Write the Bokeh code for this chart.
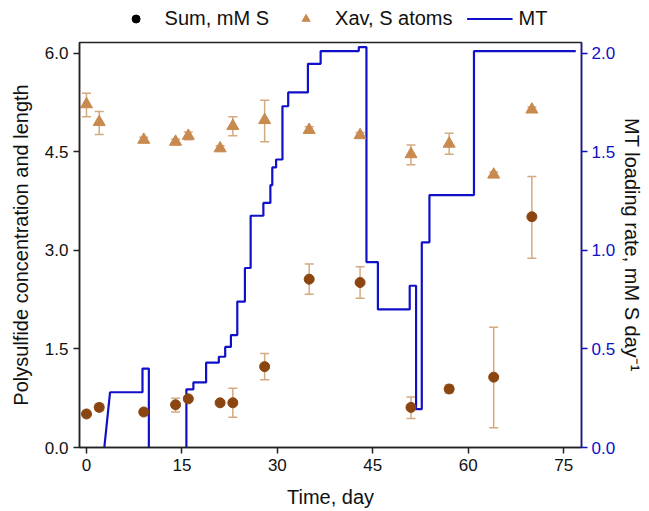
import numpy as np
from bokeh.plotting import figure
from bokeh.layouts import column
from bokeh.models import (ColumnDataSource, Range1d, LinearAxis, FixedTicker,
                          Whisker, TeeHead, Legend, LegendItem, PrintfTickFormatter)
from bokeh.embed import file_html
from bokeh.resources import INLINE

# ---- data ----
days = [0, 2, 9, 14, 16, 21, 23, 28, 35, 43, 51, 57, 64, 70]
sum_mM = [0.51, 0.61, 0.54, 0.65, 0.74, 0.68, 0.68, 1.23, 2.56, 2.51, 0.61, 0.89, 1.07, 3.51]
sum_lo = [0.47, 0.56, 0.50, 0.54, 0.70, 0.65, 0.46, 1.03, 2.33, 2.27, 0.44, 0.83, 0.30, 2.88]
sum_hi = [0.55, 0.66, 0.58, 0.75, 0.78, 0.71, 0.90, 1.43, 2.79, 2.75, 0.77, 0.95, 1.83, 4.12]

xav = [5.22, 4.95, 4.68, 4.65, 4.74, 4.55, 4.89, 4.98, 4.83, 4.75, 4.46, 4.62, 4.15, 5.14]
xav_lo = [5.03, 4.76, 4.64, 4.61, 4.68, 4.51, 4.74, 4.65, 4.78, 4.71, 4.30, 4.46, 4.11, 5.10]
xav_hi = [5.39, 5.11, 4.72, 4.69, 4.80, 4.59, 5.03, 5.28, 4.88, 4.79, 4.60, 4.78, 4.19, 5.18]

mt_day = [2.8, 3.7, 8.8, 8.8, 9.8, 9.8, np.nan,
          15.7, 15.7, 16.8, 16.8, 18.8, 18.8, 20.8, 20.8, 21.8, 21.8, 22.7, 22.7,
          23.7, 23.7, 24.9, 24.9, 25.8, 25.8, 27.8, 27.8, 28.9, 28.9, 29.2, 29.2,
          29.8, 29.8, 30.8, 30.8, 31.7, 31.7, 34.8, 34.8, 36.8, 36.8, 42.8, 42.8,
          44.0, 44.0, 45.8, 45.8, 50.8, 50.8, 51.8, 51.8, 52.7, 52.7, 53.9, 53.9,
          60.9, 60.9, 76.9]
mt_rate = [0.0, 0.28, 0.28, 0.40, 0.40, 0.0, np.nan,
           0.0, 0.295, 0.295, 0.33, 0.33, 0.43, 0.43, 0.46, 0.46, 0.51, 0.51, 0.57,
           0.57, 0.74, 0.74, 0.91, 0.91, 1.175, 1.175, 1.24, 1.24, 1.33, 1.33, 1.42,
           1.42, 1.46, 1.46, 1.73, 1.73, 1.80, 1.80, 1.945, 1.945, 2.01, 2.01, 2.03,
           2.03, 0.94, 0.94, 0.70, 0.70, 0.82, 0.82, 0.195, 0.195, 1.04, 1.04, 1.28,
           1.28, 2.01, 2.01]

left_ticks = [0, 1.5, 3.0, 4.5, 6.0]
right_ticks = [0, 0.5, 1.0, 1.5, 2.0]
x_ticks = [0, 15, 30, 45, 60, 75]

FONT = "Liberation Sans"
BROWN = "#8B4510"
TAN = "#C88A4E"
ERR = "#D4AA80"
BLUE = "#1010C8"

src = ColumnDataSource(dict(day=days, s=sum_mM, slo=sum_lo, shi=sum_hi,
                            x=xav, xlo=xav_lo, xhi=xav_hi))

# ---------- legend strip ----------
leg = figure(width=649, height=36, output_backend="svg", toolbar_location=None,
             x_axis_type=None, y_axis_type=None,
             x_range=Range1d(-1.1, 77.8), y_range=Range1d(0, 6.16),
             min_border=0)
leg.outline_line_color = None
leg.xgrid.visible = False
leg.ygrid.visible = False
leg.background_fill_color = "white"
leg.border_fill_color = "white"
l_sum = leg.scatter("day", "s", source=src, marker="circle", size=8,
                    fill_color="black", line_color="black", visible=False)
l_xav = leg.scatter("day", "x", source=src, marker="triangle", size=10,
                    fill_color=TAN, line_color=TAN, visible=False)
l_mt = leg.line(mt_day, mt_rate, line_color=BLUE, line_width=2.2, visible=False)
legend = Legend(items=[LegendItem(label="Sum, mM S", renderers=[l_sum]),
                       LegendItem(label="Xav, S atoms", renderers=[l_xav]),
                       LegendItem(label="MT", renderers=[l_mt])],
                orientation="horizontal", location="center",
                label_text_font=FONT, label_text_font_size="20px",
                label_text_color="#111111",
                glyph_width=46, label_standoff=6, spacing=14, padding=2, margin=0,
                border_line_color=None, background_fill_alpha=0)
leg.add_layout(legend)

# ---------- main plot ----------
p = figure(frame_width=502, frame_height=405, output_backend="svg", toolbar_location=None,
           x_range=Range1d(-1.1, 77.8), y_range=Range1d(0, 6.16),
           min_border_left=79, min_border_right=68, min_border_top=6, min_border_bottom=64)
p.background_fill_color = "white"
p.border_fill_color = "white"
p.xgrid.visible = False
p.ygrid.visible = False
p.outline_line_color = "#222222"
p.outline_line_width = 1.5

p.extra_y_ranges = {"mt": Range1d(0, 2.0533)}

# error bars
p.add_layout(Whisker(source=src, base="day", upper="shi", lower="slo", dimension="height",
                     line_color=ERR, line_width=1.5,
                     upper_head=TeeHead(size=9, line_color=ERR, line_width=1.5),
                     lower_head=TeeHead(size=9, line_color=ERR, line_width=1.5)))
p.add_layout(Whisker(source=src, base="day", upper="xhi", lower="xlo", dimension="height",
                     line_color=ERR, line_width=1.5,
                     upper_head=TeeHead(size=9, line_color=ERR, line_width=1.5),
                     lower_head=TeeHead(size=9, line_color=ERR, line_width=1.5)))

p.line(mt_day, mt_rate, y_range_name="mt", line_color=BLUE, line_width=2.2)
p.scatter("day", "s", source=src, marker="circle", size=10,
          fill_color=BROWN, line_color=BROWN)
p.scatter("day", "x", source=src, marker="triangle", size=12,
          fill_color=TAN, line_color=TAN)

# axes
for ax in (p.xaxis[0], p.yaxis[0]):
    ax.axis_line_color = "#222222"
    ax.axis_line_width = 1.5
    ax.major_tick_line_color = "#222222"
    ax.major_tick_line_width = 1.5
    ax.major_tick_in = 0
    ax.major_tick_out = 6
    ax.minor_tick_line_color = None
    ax.major_label_text_font = FONT
    ax.major_label_text_font_size = "17px"
    ax.major_label_text_color = "#111111"
    ax.axis_label_text_font = FONT
    ax.axis_label_text_font_size = "20px"
    ax.axis_label_text_font_style = "normal"
    ax.axis_label_text_color = "#111111"

p.xaxis[0].ticker = FixedTicker(ticks=x_ticks)
p.xaxis[0].axis_label = "Time, day"
p.xaxis[0].axis_label_standoff = 12
p.yaxis[0].ticker = FixedTicker(ticks=left_ticks)
p.yaxis[0].formatter = PrintfTickFormatter(format="%.1f")
p.yaxis[0].axis_label = "Polysulfide concentration and length"
p.yaxis[0].axis_label_standoff = 10

rax = LinearAxis(y_range_name="mt", ticker=FixedTicker(ticks=right_ticks),
                 formatter=PrintfTickFormatter(format="%.1f"),
                 axis_label="MT loading rate, mM S day\u207b\u00b9")
rax.axis_line_color = BLUE
rax.axis_line_width = 1.5
rax.major_tick_line_color = BLUE
rax.major_tick_line_width = 1.5
rax.major_tick_in = 0
rax.major_tick_out = 6
rax.minor_tick_line_color = None
rax.major_label_text_font = FONT
rax.major_label_text_font_size = "17px"
rax.major_label_text_color = BLUE
rax.major_label_standoff = 4
rax.axis_label_text_font = FONT
rax.axis_label_text_font_size = "20px"
rax.axis_label_text_font_style = "normal"
rax.axis_label_text_color = "#111111"
rax.axis_label_standoff = 3
p.add_layout(rax, "right")

layout = column(leg, p, spacing=0)
open("out.html", "w").write(file_html(layout, INLINE))
